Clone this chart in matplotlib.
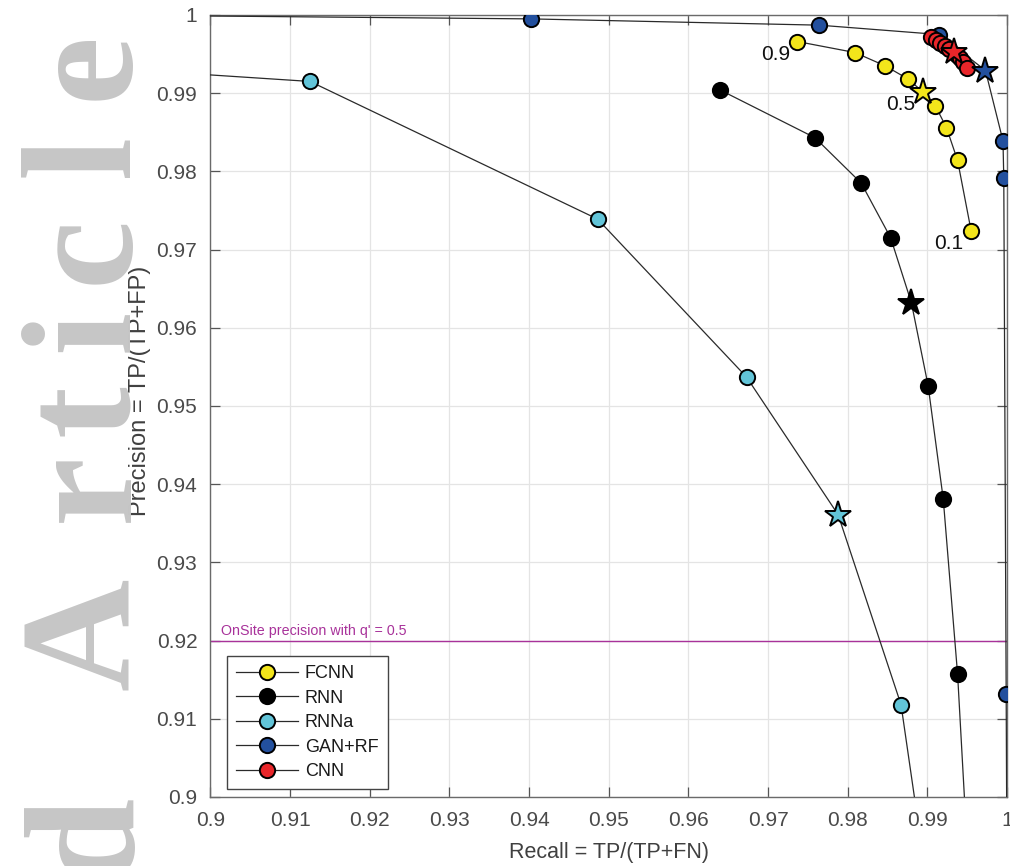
import matplotlib
matplotlib.use("Agg")
import matplotlib.pyplot as plt
from matplotlib.ticker import MultipleLocator, FuncFormatter

plt.rcParams['font.family'] = ['Liberation Sans', 'DejaVu Sans']

# Recall / precision pairs.
# The *_star index marks the q' = 0.5 operating point.
fcnn_recall = [0.9737, 0.9809, 0.9847, 0.9876, 0.9894, 0.9910, 0.9924, 0.9938, 0.9955]
fcnn_prec = [0.9966, 0.9952, 0.9935, 0.9918, 0.9902, 0.9884, 0.9856, 0.9814, 0.9724]
fcnn_star = 4

rnn_recall = [0.9640, 0.9759, 0.9817, 0.9854, 0.9880, 0.9901, 0.9920, 0.9938, 0.9952]
rnn_prec = [0.9904, 0.9843, 0.9785, 0.9715, 0.9632, 0.9526, 0.9381, 0.9157, 0.8900]
rnn_star = 4

rnna_recall = [0.8900, 0.9125, 0.9486, 0.9673, 0.9788, 0.9867, 0.9898]
rnna_prec = [0.9930, 0.9915, 0.9739, 0.9537, 0.9361, 0.9118, 0.8900]
rnna_star = 4

gan_recall = [0.8900, 0.9402, 0.9764, 0.9915, 0.9973, 0.9995, 0.9996, 0.9999, 1.0000]
gan_prec = [0.99996, 0.9995, 0.9987, 0.9975, 0.9929, 0.9839, 0.9791, 0.9132, 0.8900]
gan_star = 4

cnn_recall = [0.99046, 0.99115, 0.99165, 0.99216, 0.99266, 0.99329, 0.99373, 0.99410, 0.99448, 0.99492]
cnn_prec = [0.99719, 0.99680, 0.99642, 0.99597, 0.99559, 0.99533, 0.99488, 0.99444, 0.99393, 0.99322]
cnn_star = 5

# threshold labels placed next to FCNN points
thr_labels = ["0.9", "0.5", "0.1"]
thr_index = [0, 4, 8]

onsite_prec = 0.92
onsite_text = "OnSite precision with q' = 0.5"

series = [
    ("FCNN", fcnn_recall, fcnn_prec, fcnn_star, "#f3e51b"),
    ("RNN", rnn_recall, rnn_prec, rnn_star, "#000000"),
    ("RNNa", rnna_recall, rnna_prec, rnna_star, "#62c4d8"),
    ("GAN+RF", gan_recall, gan_prec, gan_star, "#23509e"),
    ("CNN", cnn_recall, cnn_prec, cnn_star, "#e8262a"),
]

fig = plt.figure(figsize=(10.1, 8.66), dpi=100)
ax = fig.add_axes([0.2084, 0.0797, 0.7886, 0.9030])

# journal watermark ("Accepted Article") on the left margin
wm_letters = ["d", "A", "r", "t", "i", "c", "l", "e"]
wm_ypix = [835, 634, 487, 410, 330, 250, 155, 65]
for ch, yp in zip(wm_letters, wm_ypix):
    fig.text(128 / 1010, 1 - yp / 866, ch, rotation=90, rotation_mode='anchor',
             ha='center', va='baseline', fontsize=112, fontweight='bold',
             family='Liberation Serif', color='#c6c6c6', zorder=0)

ax.grid(True, color='#e4e4e4', linewidth=0.9)
ax.set_axisbelow(True)

ax.axhline(onsite_prec, color='#a8329a', linewidth=1.0, zorder=1)
ax.text(0.9013, onsite_prec + 0.0003, onsite_text, color='#a8329a',
        fontsize=10.3, ha='left', va='bottom')

for name, rec, prec, star, col in series:
    keep = [i for i in range(len(rec)) if i != star]
    ax.plot(rec, prec, color='#2a2a2a', linewidth=0.9, marker='o',
            markersize=11, markerfacecolor=col, markeredgecolor='black',
            markeredgewidth=1.4, markevery=keep, label=name, zorder=3)
    ax.plot(rec[star], prec[star], marker='*', markersize=20,
            markerfacecolor=col, markeredgecolor='black',
            markeredgewidth=1.4, linestyle='none', zorder=4)

for lab, idx in zip(thr_labels, thr_index):
    ax.annotate(lab, (fcnn_recall[idx], fcnn_prec[idx]), xytext=(-5.5, -9),
                textcoords='offset points', ha='right', va='center',
                fontsize=15, color='#111111', zorder=5)

ax.set_xlim(0.9, 1.0)
ax.set_ylim(0.9, 1.0)
ax.xaxis.set_major_locator(MultipleLocator(0.01))
ax.yaxis.set_major_locator(MultipleLocator(0.01))
fmt = FuncFormatter(lambda v, p: "%g" % round(v, 2))
ax.xaxis.set_major_formatter(fmt)
ax.yaxis.set_major_formatter(fmt)

ax.tick_params(axis='both', direction='in', length=7, width=0.9,
               color='#555555', labelcolor='#4a4a4a', labelsize=15,
               top=True, right=True)
ax.tick_params(axis='y', pad=9.5)
ax.tick_params(axis='x', pad=10)
for sp in ax.spines.values():
    sp.set_color('#6a6a6a')
    sp.set_linewidth(1.0)

ax.set_xlabel("Recall = TP/(TP+FN)", fontsize=15.5, color='#404040', va='center')
ax.xaxis.set_label_coords(0.5, -0.0705)
ax.set_ylabel("Precision = TP/(TP+FP)", fontsize=17, color='#404040', va='center')
ax.yaxis.set_label_coords(-0.0885, 0.519)

leg = ax.legend(loc='lower left', bbox_to_anchor=(0.0211, 0.0098),
                borderaxespad=0, fontsize=13, handlelength=3.4,
                handletextpad=0.4, labelspacing=0.42, borderpad=0.5,
                fancybox=False, framealpha=1, edgecolor='#444444')
leg.get_frame().set_linewidth(1.0)
for t in leg.get_texts():
    t.set_color('#1a1a1a')

fig.savefig("out.png", dpi=100)
